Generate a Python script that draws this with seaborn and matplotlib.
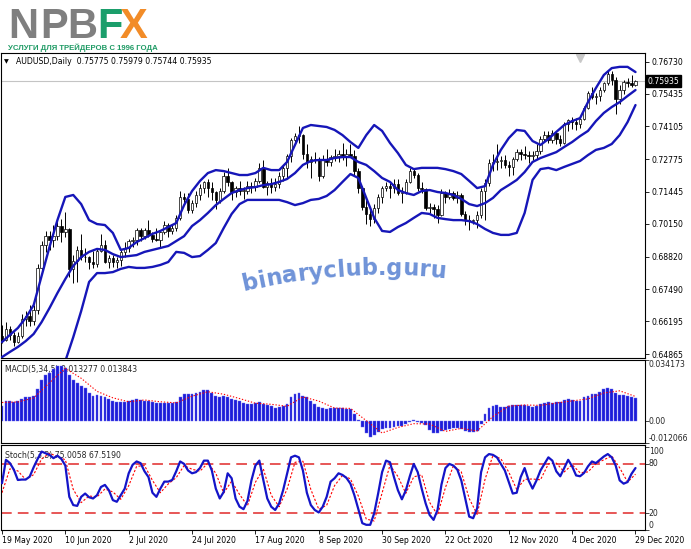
import numpy as np
import matplotlib
matplotlib.use("Agg")
import matplotlib.pyplot as plt
import seaborn as sns

# AUDUSD daily candles, 19 May 2020 .. 29 Dec 2020
opens = [0.6560, 0.6545, 0.6590, 0.6565, 0.6535, 0.6560, 0.6630, 0.6640, 0.6620, 0.6665,
         0.6835, 0.6930, 0.6965, 0.6950, 0.6965, 0.7005, 0.6980, 0.6995, 0.6830, 0.6865,
         0.6910, 0.6880, 0.6880, 0.6860, 0.6850, 0.6905, 0.6930, 0.6860, 0.6875, 0.6860,
         0.6870, 0.6900, 0.6915, 0.6945, 0.6950, 0.6990, 0.6965, 0.6990, 0.6970, 0.6955,
         0.6950, 0.6980, 0.7010, 0.6985, 0.7000, 0.7040, 0.7125, 0.7115, 0.7070, 0.7100,
         0.7130, 0.7160, 0.7185, 0.7160, 0.7145, 0.7110, 0.7150, 0.7210, 0.7185, 0.7145,
         0.7160, 0.7150, 0.7150, 0.7170, 0.7165, 0.7190, 0.7240, 0.7165, 0.7180, 0.7165,
         0.7175, 0.7210, 0.7240, 0.7290, 0.7355, 0.7370, 0.7375, 0.7300, 0.7265, 0.7280,
         0.7275, 0.7210, 0.7280, 0.7265, 0.7285, 0.7290, 0.7300, 0.7285, 0.7300, 0.7290,
         0.7230, 0.7160, 0.7085, 0.7055, 0.7035, 0.7080, 0.7125, 0.7160, 0.7170, 0.7160,
         0.7175, 0.7140, 0.7145, 0.7185, 0.7230, 0.7215, 0.7160, 0.7155, 0.7080, 0.7085,
         0.7075, 0.7050, 0.7140, 0.7125, 0.7140, 0.7120, 0.7130, 0.7055, 0.7030, 0.7025,
         0.7030, 0.7050, 0.7150, 0.7180, 0.7260, 0.7265, 0.7270, 0.7275, 0.7255, 0.7245,
         0.7280, 0.7305, 0.7300, 0.7295, 0.7290, 0.7295, 0.7310, 0.7360, 0.7375, 0.7355,
         0.7385, 0.7360, 0.7345, 0.7420, 0.7435, 0.7430, 0.7420, 0.7440, 0.7485, 0.7545,
         0.7530, 0.7535, 0.7560, 0.7585, 0.7625, 0.7600, 0.7520, 0.7560, 0.7590, 0.7585,
         0.75775]
highs = [0.6606, 0.6617, 0.6600, 0.6575, 0.6575, 0.6650, 0.6660, 0.6685, 0.6685, 0.6850,
         0.6945, 0.6985, 0.6985, 0.7010, 0.7040, 0.7035, 0.7064, 0.7000, 0.6890, 0.6925,
         0.6975, 0.6915, 0.6885, 0.6905, 0.6915, 0.6975, 0.6950, 0.6890, 0.6890, 0.6880,
         0.6910, 0.6940, 0.6955, 0.6960, 0.7000, 0.7000, 0.7000, 0.7030, 0.6980, 0.7000,
         0.6985, 0.7025, 0.7020, 0.7010, 0.7050, 0.7150, 0.7140, 0.7140, 0.7110, 0.7150,
         0.7175, 0.7190, 0.7195, 0.7185, 0.7150, 0.7160, 0.7225, 0.7240, 0.7190, 0.7170,
         0.7190, 0.7165, 0.7190, 0.7185, 0.7200, 0.7260, 0.7275, 0.7190, 0.7200, 0.7200,
         0.7225, 0.7250, 0.7300, 0.7365, 0.7385, 0.7413, 0.7380, 0.7340, 0.7290, 0.7305,
         0.7285, 0.7295, 0.7320, 0.7295, 0.7320, 0.7315, 0.7345, 0.7320, 0.7340, 0.7315,
         0.7240, 0.7170, 0.7110, 0.7080, 0.7095, 0.7135, 0.7170, 0.7185, 0.7180, 0.7195,
         0.7195, 0.7165, 0.7195, 0.7243, 0.7240, 0.7220, 0.7185, 0.7160, 0.7100, 0.7095,
         0.7090, 0.7155, 0.7150, 0.7155, 0.7150, 0.7150, 0.7140, 0.7065, 0.7050, 0.7035,
         0.7065, 0.7160, 0.7195, 0.7280, 0.7300, 0.7340, 0.7290, 0.7295, 0.7270, 0.7285,
         0.7320, 0.7320, 0.7330, 0.7310, 0.7310, 0.7340, 0.7370, 0.7390, 0.7390, 0.7395,
         0.7390, 0.7375, 0.7430, 0.7440, 0.7450, 0.7445, 0.7450, 0.7495, 0.7555, 0.7570,
         0.7545, 0.7570, 0.7590, 0.7640, 0.7635, 0.7610, 0.7580, 0.7600, 0.7605, 0.7620,
         0.75979]
lows = [0.6530, 0.6540, 0.6545, 0.6520, 0.6530, 0.6550, 0.6600, 0.6600, 0.6605, 0.6650,
        0.6815, 0.6900, 0.6910, 0.6920, 0.6950, 0.6940, 0.6960, 0.6800, 0.6775, 0.6780,
        0.6870, 0.6860, 0.6830, 0.6835, 0.6840, 0.6900, 0.6855, 0.6835, 0.6840, 0.6835,
        0.6845, 0.6880, 0.6900, 0.6920, 0.6930, 0.6945, 0.6955, 0.6960, 0.6940, 0.6945,
        0.6920, 0.6975, 0.6960, 0.6975, 0.6985, 0.7030, 0.7095, 0.7060, 0.7060, 0.7085,
        0.7110, 0.7140, 0.7125, 0.7110, 0.7075, 0.7100, 0.7140, 0.7170, 0.7110, 0.7125,
        0.7130, 0.7115, 0.7135, 0.7140, 0.7150, 0.7180, 0.7160, 0.7130, 0.7140, 0.7150,
        0.7160, 0.7190, 0.7200, 0.7265, 0.7340, 0.7345, 0.7280, 0.7240, 0.7200, 0.7260,
        0.7190, 0.7200, 0.7250, 0.7250, 0.7270, 0.7265, 0.7275, 0.7250, 0.7285, 0.7210,
        0.7140, 0.7070, 0.7015, 0.7005, 0.7020, 0.7060, 0.7100, 0.7150, 0.7120, 0.7140,
        0.7130, 0.7100, 0.7135, 0.7180, 0.7200, 0.7150, 0.7140, 0.7070, 0.7060, 0.7040,
        0.7020, 0.7045, 0.7100, 0.7115, 0.7110, 0.7100, 0.7045, 0.7010, 0.6991, 0.7015,
        0.7000, 0.7040, 0.7030, 0.7170, 0.7230, 0.7235, 0.7240, 0.7240, 0.7210, 0.7215,
        0.7270, 0.7275, 0.7280, 0.7260, 0.7275, 0.7280, 0.7300, 0.7350, 0.7345, 0.7345,
        0.7340, 0.7330, 0.7340, 0.7390, 0.7400, 0.7395, 0.7405, 0.7435, 0.7480, 0.7520,
        0.7500, 0.7515, 0.7550, 0.7580, 0.7580, 0.7462, 0.7500, 0.7540, 0.7570, 0.7570,
        0.75744]
closes = [0.6545, 0.6590, 0.6565, 0.6535, 0.6560, 0.6630, 0.6640, 0.6620, 0.6665, 0.6835,
          0.6930, 0.6965, 0.6950, 0.6965, 0.7005, 0.6980, 0.6995, 0.6830, 0.6865, 0.6910,
          0.6880, 0.6880, 0.6860, 0.6850, 0.6905, 0.6930, 0.6860, 0.6875, 0.6860, 0.6870,
          0.6900, 0.6915, 0.6945, 0.6950, 0.6990, 0.6965, 0.6990, 0.6970, 0.6955, 0.6950,
          0.6980, 0.7010, 0.6985, 0.7000, 0.7040, 0.7125, 0.7115, 0.7070, 0.7100, 0.7130,
          0.7160, 0.7185, 0.7160, 0.7145, 0.7110, 0.7150, 0.7210, 0.7185, 0.7145, 0.7160,
          0.7150, 0.7150, 0.7170, 0.7165, 0.7190, 0.7240, 0.7165, 0.7180, 0.7165, 0.7175,
          0.7210, 0.7240, 0.7290, 0.7355, 0.7370, 0.7375, 0.7300, 0.7265, 0.7280, 0.7275,
          0.7210, 0.7280, 0.7265, 0.7285, 0.7290, 0.7300, 0.7285, 0.7300, 0.7290, 0.7230,
          0.7160, 0.7085, 0.7055, 0.7035, 0.7080, 0.7125, 0.7160, 0.7170, 0.7160, 0.7175,
          0.7140, 0.7145, 0.7185, 0.7230, 0.7215, 0.7160, 0.7155, 0.7080, 0.7085, 0.7075,
          0.7050, 0.7140, 0.7125, 0.7140, 0.7120, 0.7130, 0.7055, 0.7030, 0.7025, 0.7030,
          0.7050, 0.7150, 0.7180, 0.7260, 0.7265, 0.7270, 0.7275, 0.7255, 0.7245, 0.7280,
          0.7305, 0.7300, 0.7295, 0.7290, 0.7295, 0.7310, 0.7360, 0.7375, 0.7355, 0.7385,
          0.7360, 0.7345, 0.7420, 0.7435, 0.7430, 0.7420, 0.7440, 0.7485, 0.7545, 0.7530,
          0.7535, 0.7560, 0.7585, 0.7625, 0.7600, 0.7520, 0.7560, 0.7590, 0.7585, 0.7578,
          0.75935]

# Bollinger bands (20, 2), read every 2nd bar
band_step = 2
bb_upper = [0.6535, 0.6564, 0.6592, 0.6633, 0.6685, 0.6803, 0.6921, 0.7030, 0.7124, 0.7132,
            0.7095, 0.7030, 0.7014, 0.7010, 0.6978, 0.6909, 0.6917, 0.6941, 0.6957, 0.6974,
            0.6986, 0.7002, 0.7018, 0.7091, 0.7148, 0.7189, 0.7221, 0.7233, 0.7229, 0.7221,
            0.7213, 0.7213, 0.7221, 0.7242, 0.7233, 0.7233, 0.7266, 0.7335, 0.7404, 0.7416,
            0.7412, 0.7408, 0.7396, 0.7375, 0.7347, 0.7323, 0.7375, 0.7416, 0.7392, 0.7343,
            0.7302, 0.7254, 0.7237, 0.7242, 0.7242, 0.7242, 0.7237, 0.7229, 0.7217, 0.7189,
            0.7160, 0.7168, 0.7254, 0.7315, 0.7363, 0.7396, 0.7392, 0.7351, 0.7335, 0.7359,
            0.7388, 0.7416, 0.7432, 0.7444, 0.7509, 0.7566, 0.7619, 0.7647, 0.7652, 0.7652,
            0.7631]
bb_mid = [0.6474, 0.6495, 0.6515, 0.6539, 0.6568, 0.6616, 0.6673, 0.6734, 0.6791, 0.6844,
          0.6880, 0.6901, 0.6913, 0.6909, 0.6892, 0.6880, 0.6884, 0.6888, 0.6901, 0.6909,
          0.6917, 0.6925, 0.6945, 0.6965, 0.7006, 0.7030, 0.7059, 0.7091, 0.7116, 0.7140,
          0.7152, 0.7160, 0.7164, 0.7172, 0.7176, 0.7185, 0.7197, 0.7221, 0.7254, 0.7270,
          0.7274, 0.7274, 0.7282, 0.7286, 0.7286, 0.7266, 0.7254, 0.7229, 0.7201, 0.7185,
          0.7152, 0.7140, 0.7132, 0.7148, 0.7152, 0.7144, 0.7140, 0.7132, 0.7116, 0.7095,
          0.7087, 0.7099, 0.7120, 0.7152, 0.7172, 0.7193, 0.7225, 0.7266, 0.7282, 0.7294,
          0.7306, 0.7327, 0.7347, 0.7371, 0.7392, 0.7432, 0.7465, 0.7489, 0.7509, 0.7534,
          0.7558]
bb_lower = [0.6413, 0.6425, 0.6437, 0.6446, 0.6450, 0.6429, 0.6425, 0.6437, 0.6458, 0.6555,
            0.6661, 0.6779, 0.6815, 0.6815, 0.6819, 0.6832, 0.6840, 0.6836, 0.6836, 0.6840,
            0.6848, 0.6860, 0.6901, 0.6897, 0.6880, 0.6884, 0.6909, 0.6937, 0.6998, 0.7055,
            0.7095, 0.7112, 0.7112, 0.7112, 0.7112, 0.7112, 0.7103, 0.7091, 0.7099, 0.7112,
            0.7116, 0.7128, 0.7152, 0.7185, 0.7217, 0.7201, 0.7120, 0.7039, 0.6986, 0.6982,
            0.7002, 0.7018, 0.7039, 0.7059, 0.7055, 0.7039, 0.7034, 0.7030, 0.7030, 0.7026,
            0.7014, 0.6994, 0.6978, 0.6970, 0.6970, 0.6978, 0.7059, 0.7193, 0.7237, 0.7242,
            0.7233, 0.7246, 0.7258, 0.7270, 0.7294, 0.7315, 0.7323, 0.7339, 0.7375, 0.7428,
            0.7497]

# MACD(5,34,5) histogram, one value per bar
macd = [0.0087, 0.0115, 0.0115, 0.0106, 0.0115, 0.0124, 0.0133, 0.0137, 0.0142, 0.0178,
        0.0228, 0.0257, 0.0269, 0.0293, 0.0306, 0.0311, 0.0297, 0.0260, 0.0233, 0.0215,
        0.0197, 0.0187, 0.0160, 0.0142, 0.0147, 0.0142, 0.0133, 0.0124, 0.0111, 0.0106,
        0.0106, 0.0106, 0.0115, 0.0120, 0.0124, 0.0120, 0.0115, 0.0115, 0.0109, 0.0104,
        0.0102, 0.0104, 0.0102, 0.0100, 0.0106, 0.0137, 0.0151, 0.0151, 0.0155, 0.0158,
        0.0166, 0.0173, 0.0173, 0.0160, 0.0142, 0.0137, 0.0142, 0.0137, 0.0127, 0.0118,
        0.0111, 0.0100, 0.0096, 0.0096, 0.0100, 0.0106, 0.0096, 0.0091, 0.0084, 0.0075,
        0.0078, 0.0087, 0.0096, 0.0133, 0.0151, 0.0158, 0.0142, 0.0133, 0.0115, 0.0096,
        0.0078, 0.0075, 0.0069, 0.0073, 0.0075, 0.0073, 0.0075, 0.0069, 0.0069, 0.0042,
        0.0005, -0.0031, -0.0064, -0.0089, -0.0076, -0.0058, -0.0040, -0.0035, -0.0035, -0.0031,
        -0.0027, -0.0027, -0.0016, -0.0004, 0.0009, -0.0002, -0.0009, -0.0022, -0.0049, -0.0064,
        -0.0067, -0.0053, -0.0046, -0.0040, -0.0035, -0.0035, -0.0040, -0.0053, -0.0060, -0.0062,
        -0.0053, -0.0016, 0.0042, 0.0075, 0.0087, 0.0091, 0.0082, 0.0078, 0.0087, 0.0093,
        0.0093, 0.0093, 0.0091, 0.0087, 0.0082, 0.0087, 0.0096, 0.0100, 0.0106, 0.0100,
        0.0106, 0.0106, 0.0118, 0.0124, 0.0118, 0.0115, 0.0115, 0.0133, 0.0142, 0.0151,
        0.0155, 0.0166, 0.0178, 0.0187, 0.0178, 0.0160, 0.0147, 0.0147, 0.0142, 0.0133,
        0.013277]
# MACD signal line, read every 4th bar
signal_step = 4
macd_signal = [0.0105, 0.0108, 0.0130, 0.0215, 0.0295, 0.0240, 0.0167, 0.0131, 0.0109, 0.0119,
               0.0109, 0.0103, 0.0140, 0.0165, 0.0151, 0.0127, 0.0101, 0.0095, 0.0084, 0.0136,
               0.0113, 0.0074, 0.0072, 0.0004, -0.0065, -0.0034, -0.0013, -0.0015, -0.0056, -0.0039,
               -0.0054, 0.0027, 0.0085, 0.0091, 0.0089, 0.0102, 0.0114, 0.0125, 0.0158, 0.0170,
               0.013843]

# Stochastic(5,3,3): %K per bar, %D every 2nd bar
stoch_k = [56.5, 85, 81, 73, 60.5, 61, 61, 64.6, 76, 86,
           95, 93, 91, 87, 90, 86, 78, 40, 30, 29,
           40, 44, 39.5, 38, 42, 52, 54.5, 48, 36, 34,
           42, 50, 68.6, 79, 83, 81, 71, 64, 45, 40,
           50, 58.5, 58.5, 60.5, 71, 83, 80, 72, 68.6, 70,
           75, 84, 84, 72, 50, 38, 46, 68.6, 62.6, 38,
           28, 25, 35, 60, 78, 84, 60.5, 38, 28, 24,
           32, 48, 68, 88, 90, 88, 72, 45, 30, 24,
           21, 28, 40, 58.5, 62.6, 68.6, 66.6, 63, 56, 42,
           25, 8, 6, 6, 20, 44, 70, 84, 82, 64,
           48, 37, 48, 65, 80, 70, 50, 32, 18, 12,
           24, 55, 75, 80, 78, 73, 60, 38, 16, 14,
           26, 70, 88, 92, 91, 88, 80, 72, 58, 44,
           45, 64, 75, 60, 50, 60, 72, 80, 88, 84,
           71, 65, 75, 85, 77, 66, 65, 69, 77, 83,
           81, 85, 89, 92, 88, 78, 60, 56, 58, 68,
           75.0058]
d_step = 2
stoch_d = [45, 74, 71.5, 61, 67, 86, 93, 89, 85, 49, 33, 41, 40, 49.5, 46, 37, 53.5, 77, 78, 60,
           45, 55.7, 63.3, 78, 73.5, 71.2, 81, 68.7, 44.7, 59, 42.9, 29.3, 57.7, 74, 42, 28, 49.3,
           82, 83.3, 49, 25, 29.7, 53.7, 66, 61.9, 41, 13, 10.7, 44.7, 78.7, 64.7, 44.3, 64.3, 66.7,
           33.3, 18, 51.3, 77.7, 70.3, 38, 18.7, 61.3, 90.3, 86.3, 70, 49, 61.3, 61.7, 60.7, 80,
           81, 70.3, 79, 69.3, 70.3, 80.3, 85, 89.7, 75.3, 58, 67.519]

price_ticks = [0.76730, 0.75435, 0.74105, 0.72775, 0.71445, 0.70150, 0.68820, 0.67490, 0.66195, 0.64865]
date_labels = ["19 May 2020", "10 Jun 2020", "2 Jul 2020", "24 Jul 2020", "17 Aug 2020", "8 Sep 2020",
               "30 Sep 2020", "22 Oct 2020", "12 Nov 2020", "4 Dec 2020", "29 Dec 2020"]
date_step = 16

sns.set_theme(style="white")
plt.rcParams["font.family"] = ["DejaVu Sans"]

W, H = 691, 549
fig = plt.figure(figsize=(W / 100, H / 100), dpi=100)
fig.patch.set_facecolor("white")


def box(top, bottom, left=1, right=645):
    return [left / W, 1 - bottom / H, (right - left) / W, (bottom - top) / H]


def fpos(x, y):
    return x / W, 1 - y / H


ax_p = fig.add_axes(box(53, 358))
ax_m = fig.add_axes(box(360, 443))
ax_s = fig.add_axes(box(445, 530))

bars = np.arange(len(closes))
o, h, l, c = (np.array(v) for v in (opens, highs, lows, closes))
xlim = (-0.25, 162.4)
band_color = "#1616b8"

for ax in (ax_p, ax_m, ax_s):
    ax.set_xlim(*xlim)
    ax.set_facecolor("white")
    for sp in ax.spines.values():
        sp.set_color("black")
        sp.set_linewidth(0.8)

# --- price panel
ax_p.axhline(c[-1], color="#c4c4c4", lw=0.8, zorder=1)
ax_p.vlines(bars, l, h, color="black", lw=0.7, zorder=3)
up = c >= o
ax_p.bar(bars, np.maximum(np.abs(c - o), 0.00005), bottom=np.minimum(o, c), width=0.62,
         color=np.where(up, "white", "black"), edgecolor="black", linewidth=0.5, zorder=4)
band_bars = bars[::band_step]
for band in (bb_upper, bb_mid, bb_lower):
    sns.lineplot(x=band_bars, y=band, ax=ax_p, color=band_color, linewidth=1.7, zorder=5)
ax_p.set_ylim(0.64703, 0.77083)
ax_p.set_xticks([])
ax_p.set_xlabel("")
ax_p.yaxis.tick_right()
ax_p.set_yticks(price_ticks)
ax_p.set_yticklabels([f"{v:.5f}" for v in price_ticks])
ax_p.tick_params(axis="y", right=True, left=False, length=3, width=0.6, direction="out",
                 labelsize=5.6, pad=1.5, colors="black")
ax_p.text(1.004, c[-1], f"{c[-1]:.5f}", transform=ax_p.get_yaxis_transform(), color="white",
          fontsize=5.6, va="center", ha="left", zorder=10, clip_on=False,
          bbox=dict(boxstyle="square,pad=0.18", fc="black", ec="black"))
ax_p.plot([0.899], [0.984], marker="v", ms=6, color="#c8c8c8", transform=ax_p.transAxes,
          clip_on=False)
fig.text(*fpos(4, 62), "\u25bc", fontsize=4.5, va="center", ha="left", color="black")
fig.text(*fpos(16, 62), f"AUDUSD,Daily  {o[-1]:.5f} {h[-1]:.5f} {l[-1]:.5f} {c[-1]:.5f}",
         fontsize=5.6, va="center", ha="left", color="black")

# --- MACD panel
ax_m.text(0.006, 0.88, f"MACD(5,34,5) {macd[-1]:.6f} {macd_signal[-1]:.6f}", transform=ax_m.transAxes,
          fontsize=5.6, va="center", ha="left", zorder=0)
ax_m.bar(bars, macd, width=0.72, color="#1c1cd8", edgecolor="#6a6af2", linewidth=0.3, zorder=2)
sns.lineplot(x=bars[::signal_step], y=macd_signal, ax=ax_m, color="red", linewidth=0.8, zorder=3)
ax_m.lines[-1].set_linestyle((0, (1.2, 1.6)))
ax_m.set_ylim(-0.012066, 0.034173)
ax_m.set_xticks([])
ax_m.set_xlabel("")
ax_m.yaxis.tick_right()
ax_m.set_yticks([0.034173, 0.0, -0.012066])
ax_m.set_yticklabels(["", "", ""])
ax_m.tick_params(axis="y", right=True, left=False, length=3, width=0.6, direction="out")
ytr = ax_m.get_yaxis_transform()
ax_m.text(1.006, 0.034173, "0.034173", transform=ytr, fontsize=5.6, va="top", ha="left")
ax_m.text(1.006, 0.0, "0.00", transform=ytr, fontsize=5.6, va="center", ha="left")
ax_m.text(1.006, -0.012066, "-0.012066", transform=ytr, fontsize=5.6, va="bottom", ha="left")

# --- Stochastic panel
ax_s.text(0.006, 0.88, f"Stoch(5,3,3) {stoch_k[-1]:.4f} {stoch_d[-1]:.4f}", transform=ax_s.transAxes,
          fontsize=5.6, va="center", ha="left", zorder=0)
for lvl in (80, 20):
    ax_s.axhline(lvl, color="#e02828", lw=1.1, ls=(0, (7, 4)), zorder=1)
sns.lineplot(x=bars[::d_step], y=stoch_d, ax=ax_s, color="red", linewidth=0.8, zorder=2)
ax_s.lines[-1].set_linestyle((0, (2, 1.6)))
sns.lineplot(x=bars, y=stoch_k, ax=ax_s, color="#1414c8", linewidth=1.6, zorder=3)
ax_s.set_ylim(-0.3, 103)
ax_s.set_xlabel("")
ax_s.yaxis.tick_right()
ax_s.set_yticks([100, 80, 20, 0])
ax_s.set_yticklabels(["", "", "", ""])
ax_s.tick_params(axis="y", right=True, left=False, length=3, width=0.6, direction="out")
ytr = ax_s.get_yaxis_transform()
ax_s.text(1.006, 100, "100", transform=ytr, fontsize=5.6, va="top", ha="left")
ax_s.text(1.006, 80, "80", transform=ytr, fontsize=5.6, va="center", ha="left")
ax_s.text(1.006, 20, "20", transform=ytr, fontsize=5.6, va="center", ha="left")
ax_s.text(1.006, 0, "0", transform=ytr, fontsize=5.6, va="bottom", ha="left")
ax_s.set_xticks(bars[::date_step])
ax_s.set_xticklabels(date_labels)
ax_s.tick_params(axis="x", bottom=True, length=3, width=0.6, direction="out", labelsize=5.6,
                 pad=1.5, colors="black")
plt.setp(ax_s.get_xticklabels(), ha="left")

# --- logo
logo = [("N", 8, "#7f7f7f"), ("P", 40, "#7f7f7f"), ("B", 67, "#7f7f7f"),
        ("F", 97, "#1b9e6b"), ("X", 120, "#f28c28")]
for ch, lx, col in logo:
    fig.text(*fpos(lx, 38), ch, fontsize=30, fontweight="bold", family="Liberation Sans",
             color=col, ha="left", va="baseline")
fig.text(*fpos(8, 50), "УСЛУГИ ДЛЯ ТРЕЙДЕРОВ С 1996 ГОДА", fontsize=5.6, fontweight="bold",
         family="Liberation Sans", color="#1e9a64", ha="left", va="baseline")

# --- watermark on a gentle arc
adv = {"b": .716, "i": .343, "n": .712, "a": .675, "r": .493, "y": .652, "c": .593,
       "l": .343, "u": .712, ".": .380, "g": .716}
em = 22.6
x0 = 243
for ch in "binaryclub.guru":
    w = adv[ch] * em
    xc = x0 + w / 2
    yb = 290 - 0.2225 * (xc - 250) + 0.000826 * (xc - 250) ** 2
    slope = -0.2225 + 2 * 0.000826 * (xc - 250)
    fig.text(*fpos(xc, yb), ch, fontsize=em * 0.72, fontweight="bold", color="#6f93d8",
             rotation=-np.degrees(np.arctan(slope)), rotation_mode="anchor",
             ha="center", va="baseline")
    x0 += w

fig.savefig("out.png", dpi=100, facecolor="white")
